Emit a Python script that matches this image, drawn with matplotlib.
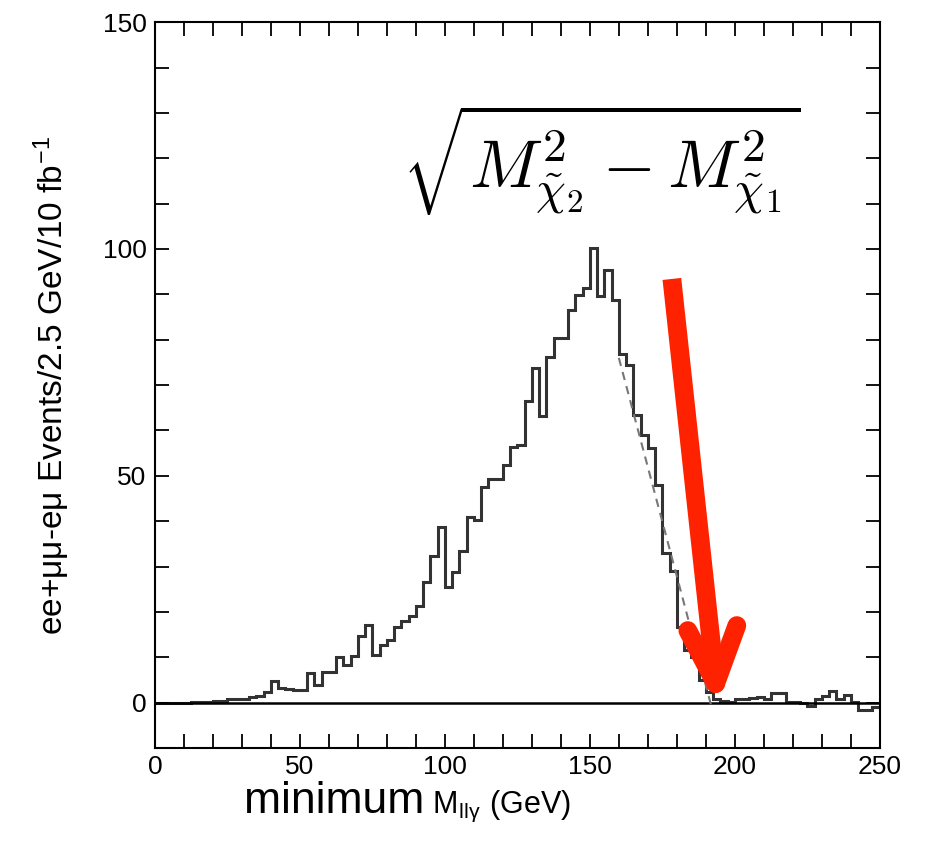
import numpy as np
import matplotlib
matplotlib.use("Agg")
import matplotlib.pyplot as plt
from matplotlib.ticker import MultipleLocator
from matplotlib import font_manager

# bin edges: 100 bins of 2.5 GeV from 0 to 250
bin_width = 2.5
bin_lo = 0.0
counts = [
    0, 0, 0, 0, 0, 0.1, 0.2, 0.2, 0.4, 0.4,
    0.7, 0.8, 0.8, 1.3, 1.4, 2.4, 4.8, 3.2, 3.1, 2.7,
    2.7, 6.6, 4.0, 6.8, 6.8, 10.1, 8.2, 10.3, 14.8, 17.2,
    10.4, 12.8, 13.9, 16.7, 17.9, 19.2, 21.4, 26.7, 32.3, 38.7,
    25.5, 28.8, 33.5, 40.9, 40.2, 47.5, 49.2, 49.2, 52.4, 56.3,
    56.7, 66.4, 73.8, 63.1, 76.3, 80.4, 80.4, 86.6, 89.9, 91.5,
    100.2, 89.7, 95.4, 88.8, 76.9, 74.4, 63.3, 58.9, 56.1, 48.0,
    33.0, 29.1, 16.7, 11.5, 10.1, 4.9, 2.4, 0.9, 0.4, 0.2,
    0.9, 0.7, 1.0, 1.2, 0.9, 2.2, 2.2, 0.2, 0.2, 0.0,
    -0.7, 0.8, 1.4, 2.5, 0.8, 1.6, 0.1, -1.6, -1.6, -1.0,
]

# linear fit of the upper edge (dashed)
fit_x = [160.0, 192.0]
fit_y = [76.0, -1.0]

# red arrow pointing at the endpoint
arrow_tail = (178.3, 93.4)
arrow_tip = (193.4, 4.2)
arrow_arm_left = (183.8, 15.9)
arrow_arm_right = (200.7, 17.0)

xticks = [0, 50, 100, 150, 200, 250]
yticks = [0, 50, 100, 150]

label_font = 'Liberation Sans'
narrow_font = 'Liberation Sans Narrow'


def main():
    plt.rcParams['mathtext.fontset'] = 'cm'
    plt.rcParams['font.family'] = [label_font, 'DejaVu Sans']

    names = {f.name for f in font_manager.fontManager.ttflist}
    ylab_family = [narrow_font, label_font] if narrow_font in names else [label_font]

    fig = plt.figure(figsize=(9.28, 8.46), dpi=100)
    ax = fig.add_axes([0.167, 0.1158, 0.781, 0.858])

    edges = bin_lo + bin_width * np.arange(len(counts) + 1)
    ax.stairs(counts, edges, color='#333333', linewidth=2.2, baseline=None)

    ax.axhline(0, color='black', linewidth=1.8)
    ax.plot(fit_x, fit_y, color='#777777', linewidth=1.5, dashes=(4, 3))

    # arrow drawn as shaft + two arms
    red = '#ff2200'
    ax.plot([arrow_tail[0], arrow_tip[0]], [arrow_tail[1], arrow_tip[1]],
            color=red, linewidth=13.5, solid_capstyle='butt', zorder=5)
    for arm in (arrow_arm_left, arrow_arm_right):
        ax.plot([arm[0], arrow_tip[0]], [arm[1], arrow_tip[1]],
                color=red, linewidth=13.5, solid_capstyle='round', zorder=5)

    ax.text(0.615, 0.81,
            r'$\sqrt{M^2_{\tilde{\chi}_2} - M^2_{\tilde{\chi}_1}}$',
            transform=ax.transAxes, fontsize=49, ha='center', va='center')

    ax.set_xlim(0, 250)
    ax.set_ylim(-10, 150)
    ax.set_xticks(xticks)
    ax.set_yticks(yticks)
    ax.xaxis.set_minor_locator(MultipleLocator(10))
    ax.yaxis.set_minor_locator(MultipleLocator(10))
    ax.tick_params(which='both', direction='in', top=True, right=True,
                   length=10, width=1.3, labelsize=19, pad=5)
    ax.tick_params(axis='y', pad=6)
    for s in ax.spines.values():
        s.set_linewidth(1.5)

    ax.set_ylabel('ee+μμ-eμ Events/2.5 GeV/10 fb$^{\\mathregular{-1}}$',
                  fontsize=24, family=ylab_family, labelpad=22)

    fig.text(0.263, 0.039, 'minimum', fontsize=32, ha='left', va='baseline')
    fig.text(0.466, 0.039, r'M$_{\mathregular{ll\gamma}}$ (GeV)', fontsize=22,
             ha='left', va='baseline')

    plt.savefig('out.png')


if __name__ == "__main__":
    main()
